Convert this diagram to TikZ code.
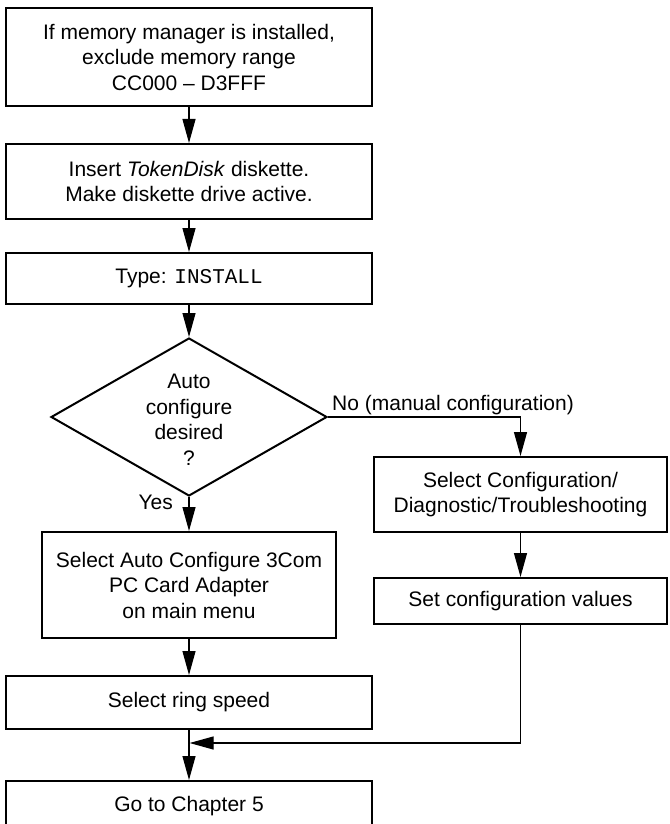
\documentclass[tikz,border=0pt]{standalone}
\usepackage{fontspec}
\setmainfont{Liberation Sans}
\setmonofont{Liberation Mono}
\usetikzlibrary{arrows.meta,shapes.geometric}

\tikzset{
  stepbox/.style={draw=black, line width=2pt, rectangle, align=center,
    inner sep=0pt, font=\fontsize{21}{25.5}\selectfont},
  decision/.style={draw=black, line width=2pt, diamond, inner sep=0pt,
    minimum width=276pt, minimum height=158pt},
  txt/.style={align=center, inner sep=0pt, font=\fontsize{21}{25.5}\selectfont},
  flow/.style={draw=black, line width=1.2pt,
    -{Triangle[length=24pt, width=13pt]}},
  plain/.style={draw=black, line width=1.2pt}
}

\begin{document}
\begin{tikzpicture}[x=1pt, y=-1pt]
  \useasboundingbox (0,0) rectangle (669,824);

  % main column
  \node[stepbox, minimum width=366pt, minimum height=98pt] (mem) at (189,57)
    {If memory manager is installed,\\exclude memory range\\CC000 -- D3FFF};
  \node[stepbox, minimum width=366pt, minimum height=75pt] (disk) at (189,181.5)
    {Insert \textit{TokenDisk} diskette.\\Make diskette drive active.};
  \node[stepbox, minimum width=366pt, minimum height=51pt] (inst) at (189,278.5)
    {Type: \texttt{INSTALL}};
  \node[decision] (auto) at (189,417) {};
  \node[txt] (autotxt) at (189,420) {Auto\\configure\\desired\\?};
  \node[stepbox, minimum width=294pt, minimum height=106pt] (acfg) at (189,585)
    {Select Auto Configure 3Com\\PC Card Adapter\\on main menu};
  \node[stepbox, minimum width=366pt, minimum height=53pt] (ring) at (189,702.5)
    {Select ring speed};
  \node[stepbox, minimum width=366pt, minimum height=50pt] (goch) at (189,806)
    {Go to Chapter 5};

  % manual branch
  \node[stepbox, minimum width=293pt, minimum height=75pt] (diag) at (520.5,494.5)
    {Select Configuration/\\Diagnostic/Troubleshooting};
  \node[stepbox, minimum width=293pt, minimum height=46pt] (setv) at (520.5,601)
    {Set configuration values};

  % connectors
  \draw[flow] (mem.south) -- (disk.north);
  \draw[flow] (disk.south) -- (inst.north);
  \draw[flow] (inst.south) -- (auto.north);
  \draw[flow] (auto.south) -- (acfg.north);
  \draw[flow] (acfg.south) -- (ring.north);
  \draw[flow] (ring.south) -- (goch.north);
  \draw[flow] (auto.east) -| (diag.north);
  \draw[flow] (diag.south) -- (setv.north);
  \coordinate (merge) at (189.6,743);
  \draw[flow] (setv.south) |- (merge);

  % branch labels
  \node[txt, anchor=base west] (nolbl) at (332,410) {No (manual configuration)};
  \node[txt, anchor=base east] (yeslbl) at (173,509.5) {Yes};
\end{tikzpicture}
\end{document}
